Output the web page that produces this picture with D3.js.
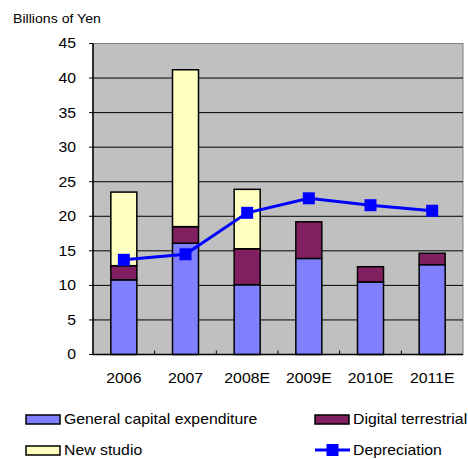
<!DOCTYPE html>
<html>
<head>
<meta charset="utf-8">
<script src="https://cdn.jsdelivr.net/npm/d3@7"></script>
<style>
  body { margin: 0; background: #fff; }
  svg text { font-family: Arial, "Liberation Sans", sans-serif; fill: #000; }
</style>
</head>
<body>
<div id="chart"></div>
<script>
var years = ["2006", "2007", "2008E", "2009E", "2010E", "2011E"]
var general = [10.8, 16.1, 10.1, 13.9, 10.5, 13.0]
var digital = [2.05, 2.4, 5.2, 5.3, 2.2, 1.65]
var studio = [10.65, 22.7, 8.6, 0, 0, 0]
var depreciation = [13.7, 14.5, 20.5, 22.6, 21.6, 20.8]
var yTicks = [0, 5, 10, 15, 20, 25, 30, 35, 40, 45]

var seriesNames = ["General capital expenditure", "Digital terrestrial", "New studio"]
var colors = ["#8080ff", "#802060", "#ffffc0"]

var width = 468, height = 459
var margin = {top: 43.5, right: 5, bottom: 104.5, left: 93}
var stretch = 1.13  // the original text is a bit wider than the font

var svg = d3.select("#chart").append("svg")
    .attr("width", width).attr("height", height)

var x = d3.scaleBand()
    .domain(years)
    .range([margin.left, width - margin.right])

var y = d3.scaleLinear()
    .domain([0, 45])
    .range([height - margin.bottom, margin.top])

function place(sel, fx, fy) {
  sel.attr("transform", (d, i) => "translate(" + fx(d, i) + "," + fy(d, i) + ") scale(" + stretch + ",1)")
}

// plot background
svg.append("rect")
    .attr("x", margin.left).attr("y", margin.top)
    .attr("width", width - margin.right - margin.left)
    .attr("height", y(0) - margin.top)
    .attr("fill", "#c0c0c0")
    .attr("stroke", "#808080")

// gridlines
svg.append("g")
  .selectAll("line")
  .data(yTicks.filter(d => d > 0 && d < 45))
  .join("line")
    .attr("x1", margin.left).attr("x2", width - margin.right)
    .attr("y1", d => y(d)).attr("y2", d => y(d))
    .attr("stroke", "#000").attr("stroke-width", 1)

// stacked bars
var table = years.map((yr, i) => ({year: yr, a: general[i], b: digital[i], c: studio[i]}))
var stacked = d3.stack().keys(["a", "b", "c"])(table)
var barW = 26

svg.append("g")
  .selectAll("g")
  .data(stacked)
  .join("g")
    .attr("fill", (d, i) => colors[i])
  .selectAll("rect")
  .data(d => d.filter(p => p[1] - p[0] > 0))
  .join("rect")
    .attr("x", d => x(d.data.year) + x.bandwidth() / 2 - barW / 2)
    .attr("y", d => y(d[1]))
    .attr("width", barW)
    .attr("height", d => y(d[0]) - y(d[1]))
    .attr("stroke", "#000")
    .attr("stroke-width", 1.5)

// axes
svg.append("line")
    .attr("x1", margin.left).attr("x2", margin.left)
    .attr("y1", margin.top).attr("y2", y(0))
    .attr("stroke", "#000").attr("stroke-width", 1.5)
svg.append("line")
    .attr("x1", margin.left).attr("x2", width - margin.right)
    .attr("y1", y(0)).attr("y2", y(0))
    .attr("stroke", "#000").attr("stroke-width", 1.5)

// left ticks
svg.append("g")
  .selectAll("line")
  .data(yTicks)
  .join("line")
    .attr("x1", margin.left - 4).attr("x2", margin.left)
    .attr("y1", d => y(d)).attr("y2", d => y(d))
    .attr("stroke", "#000")

// category boundary ticks
svg.append("g")
  .selectAll("line")
  .data(years.slice(1))
  .join("line")
    .attr("x1", d => x(d)).attr("x2", d => x(d))
    .attr("y1", y(0) - 4).attr("y2", y(0))
    .attr("stroke", "#000")

svg.append("g")
  .selectAll("text")
  .data(yTicks)
  .join("text")
    .call(place, () => 76, d => y(d))
    .attr("dy", "0.35em")
    .attr("text-anchor", "end")
    .attr("font-size", 14)
    .text(d => d)

svg.append("g")
  .selectAll("text")
  .data(years)
  .join("text")
    .call(place, d => x(d) + x.bandwidth() / 2, () => 378)
    .attr("dy", "0.35em")
    .attr("text-anchor", "middle")
    .attr("font-size", 14)
    .text(d => d)

svg.append("text")
    .datum("Billions of Yen")
    .call(place, () => 13, () => 23)
    .attr("font-size", 12.5)
    .text(d => d)

// depreciation line
var line = d3.line()
    .x((d, i) => x(years[i]) + x.bandwidth() / 2)
    .y(d => y(d))

svg.append("path")
    .datum(depreciation)
    .attr("fill", "none")
    .attr("stroke", "#0000ff")
    .attr("stroke-width", 3)
    .attr("d", line)

svg.append("g")
  .selectAll("rect")
  .data(depreciation)
  .join("rect")
    .attr("x", (d, i) => x(years[i]) + x.bandwidth() / 2 - 6)
    .attr("y", d => y(d) - 6)
    .attr("width", 12).attr("height", 12)
    .attr("fill", "#0000ff")

// legend
var legendItems = [
  {name: seriesNames[0], color: colors[0], lx: 26, ly: 419.5},
  {name: seriesNames[1], color: colors[1], lx: 315, ly: 419.5},
  {name: seriesNames[2], color: colors[2], lx: 26, ly: 450.5}
]

var leg = svg.append("g")
leg.selectAll("rect")
  .data(legendItems)
  .join("rect")
    .attr("x", d => d.lx).attr("y", d => d.ly - 4.5)
    .attr("width", 34).attr("height", 9)
    .attr("fill", d => d.color)
    .attr("stroke", "#000").attr("stroke-width", 1.5)
leg.selectAll("text")
  .data(legendItems)
  .join("text")
    .call(place, d => d.lx + 38, d => d.ly)
    .attr("dy", "0.35em")
    .attr("font-size", 14)
    .text(d => d.name)

leg.append("line")
    .attr("x1", 315).attr("x2", 350)
    .attr("y1", 450).attr("y2", 450)
    .attr("stroke", "#0000ff").attr("stroke-width", 3)
leg.append("rect")
    .attr("x", 326.5).attr("y", 444)
    .attr("width", 12).attr("height", 12)
    .attr("fill", "#0000ff")
leg.append("text")
    .datum("Depreciation")
    .call(place, () => 353, () => 450)
    .attr("dy", "0.35em")
    .attr("font-size", 14)
    .text(d => d)
</script>
</body>
</html>
